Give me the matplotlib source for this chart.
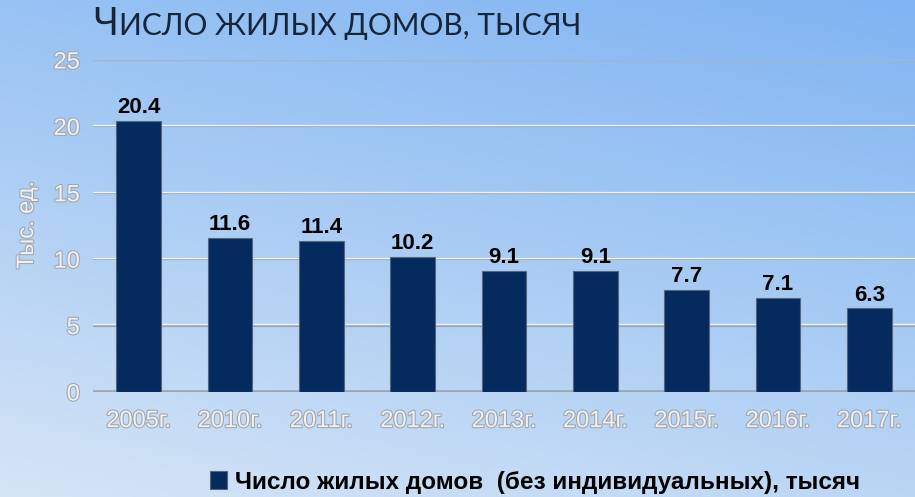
import numpy as np
import matplotlib
matplotlib.use("Agg")
import matplotlib.pyplot as plt
import matplotlib.patheffects as pe
import matplotlib.transforms as mtransforms
from matplotlib.patches import Patch
from matplotlib.colors import LinearSegmentedColormap

categories = ["2005г.", "2010г.", "2011г.", "2012г.", "2013г.", "2014г.", "2015г.", "2016г.", "2017г."]
values = [20.4, 11.6, 11.4, 10.2, 9.1, 9.1, 7.7, 7.1, 6.3]
yticks = [0, 5, 10, 15, 20, 25]
series_name = "Число жилых домов  (без индивидуальных), тысяч"
ylabel = "Тыс. ед."
title_first = "Ч"
title_rest = "ИСЛО ЖИЛЫХ ДОМОВ, ТЫСЯЧ"

W, H = 915, 497
fig = plt.figure(figsize=(W / 100, H / 100), dpi=100)

# background gradient
bg = fig.add_axes([0, 0, 1, 1], zorder=-10)
xs = np.linspace(0, 1, 200)
ys = np.linspace(0, 1, 200)
X, Y = np.meshgrid(xs, ys)  # Y=0 top
U = 0.3 * (1 - X) + 0.7 * Y
cmap = LinearSegmentedColormap.from_list("bgc", ["#80b4f2", "#a9ccf4", "#d5e5f6"])
bg.imshow(U, cmap=cmap, aspect="auto", extent=[0, 1, 1, 0], vmin=0, vmax=1)
bg.set_axis_off()

ax = fig.add_axes([93 / W, 1 - 392 / H, 1 - 93 / W, (392 - 60) / H])
ax.patch.set_alpha(0)
x = np.arange(len(categories))
ax.set_xlim(-0.5, len(categories) - 0.5)
ax.set_ylim(0, 25)

# gridlines (gray with white highlight above)
hi = mtransforms.offset_copy(ax.transData, fig=fig, x=0, y=1.2, units="dots")
for t in yticks[1:]:
    ax.axhline(t, color="#97a7bb", lw=1.6, zorder=1)
    ax.plot([-0.5, len(categories) - 0.5], [t, t], color="#eef3f8", lw=1.0,
            transform=hi, zorder=1.1)
ax.axhline(0, color="#9aa5b3", lw=2.6, zorder=1)

bars = ax.bar(x, values, width=0.49, color="#052a5e", edgecolor="#55657a",
              linewidth=0.8, zorder=3)
for b, v in zip(bars, values):
    ax.annotate(f"{v:.1f}", (b.get_x() + b.get_width() / 2, v),
                xytext=(0, 2), textcoords="offset points", ha="center", va="bottom",
                fontsize=16, fontweight="bold", color="black",
                family="Liberation Sans", zorder=4)

for s in ax.spines.values():
    s.set_visible(False)

outline = [pe.Stroke(linewidth=1.6, foreground="#a3a7ad"), pe.Normal()]
ax.set_yticks(yticks)
ax.set_yticklabels([str(t) for t in yticks])
ax.set_xticks(x)
ax.set_xticklabels(categories)
ax.tick_params(axis="both", length=0, labelcolor="#eef2f7", labelsize=17)
ax.tick_params(axis="y", pad=9.5)
ax.tick_params(axis="x", pad=13)
for lab in ax.get_xticklabels() + ax.get_yticklabels():
    lab.set_family("Liberation Sans")
    lab.set_path_effects(outline)

fig.text(27 / W, 1 - 225 / H, ylabel, rotation=90, ha="center", va="center",
         fontsize=17, color="#eef2f7", family="Liberation Sans",
         path_effects=outline)

# title (small caps style)
t1 = fig.text(93 / W, 1 - 35 / H, title_first, fontsize=27, color="#15263a",
              family="Lato", fontweight="normal", ha="left", va="baseline")
fig.canvas.draw()
bb = t1.get_window_extent()
fig.text(bb.x1 / W + 1 / W, 1 - 35 / H, title_rest, fontsize=21.5, color="#15263a",
         family="Lato", fontweight="normal", ha="left", va="baseline")

handle = Patch(facecolor="#052a5e", edgecolor="#55657a", linewidth=0.8)
fig.legend([handle], [series_name], loc="center", bbox_to_anchor=(535 / W, 1 - 482 / H),
           frameon=False, handlelength=0.7, handleheight=0.7, handletextpad=0.3,
           prop={"family": "Liberation Sans", "weight": "bold", "size": 17.5})

fig.savefig("out.png", dpi=100)
